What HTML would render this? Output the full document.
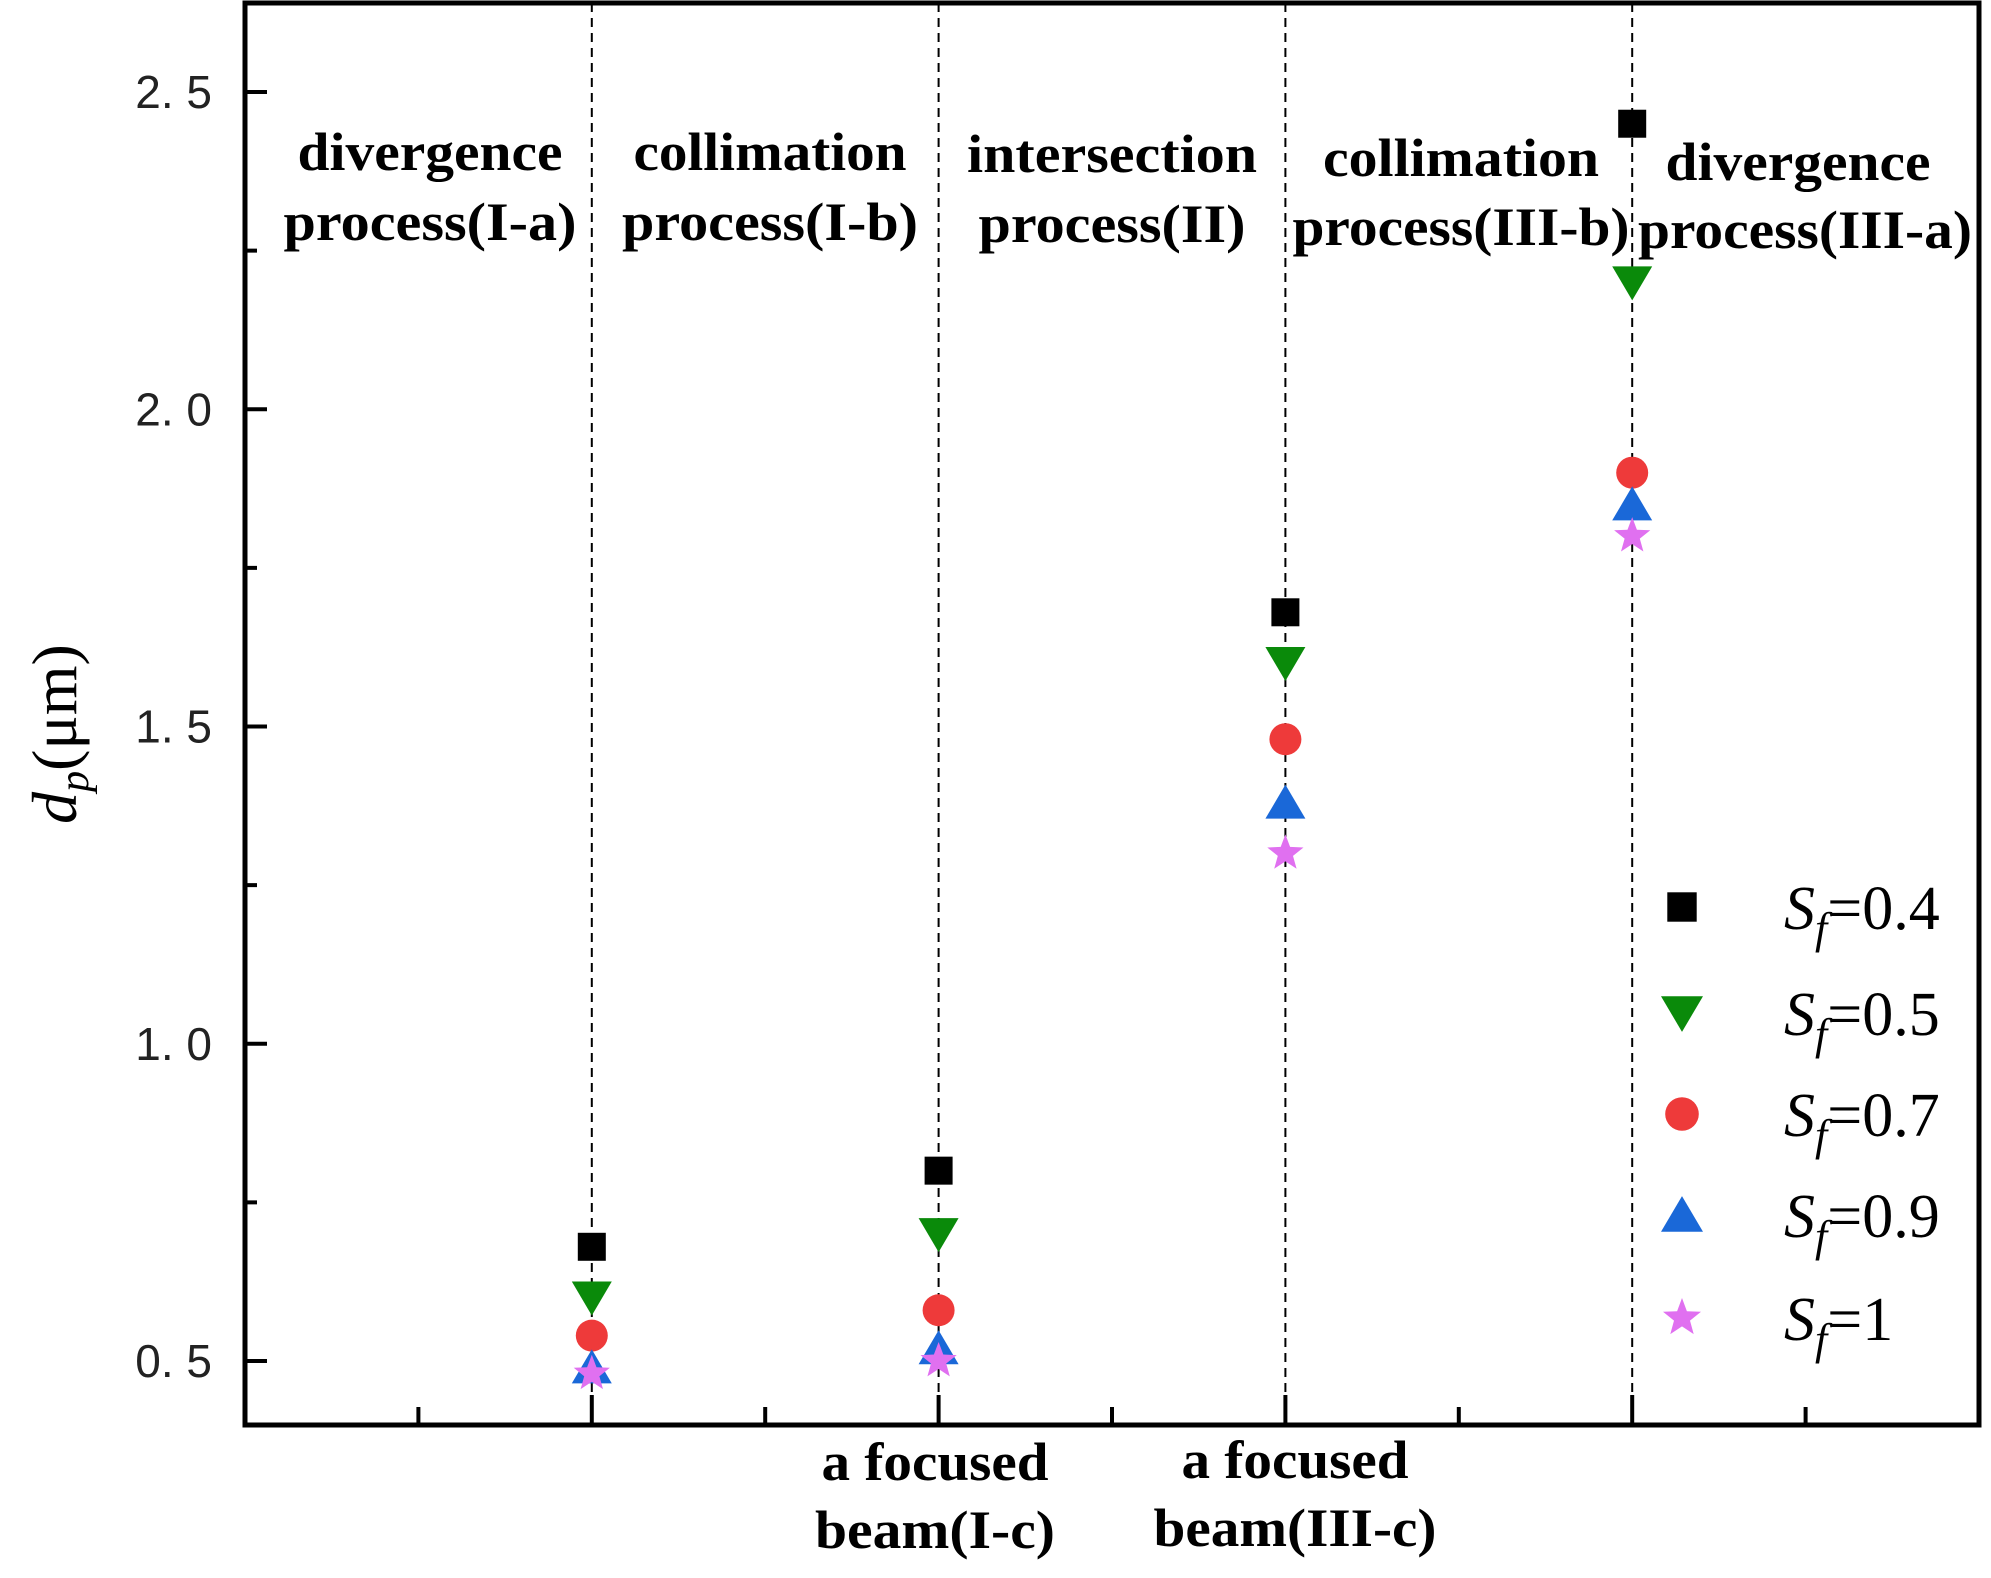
<!DOCTYPE html>
<html><head><meta charset="utf-8"><style>
html,body{margin:0;padding:0;background:#fff;}
svg{display:block;}
.lab{font-family:"Liberation Serif",serif;font-weight:bold;font-size:54px;fill:#000;}
.tick{font-family:"Liberation Sans",sans-serif;font-size:46px;fill:#222;}
.leg{font-family:"Liberation Serif",serif;font-size:62px;fill:#000;}
</style></head><body>
<svg id="chart" width="1991" height="1578" viewBox="0 0 1991 1578">
<g id="grid"></g>
<g id="labels">
<text class="lab" x="430" y="170" text-anchor="middle" textLength="265" lengthAdjust="spacingAndGlyphs">divergence</text>
<text class="lab" x="430" y="240" text-anchor="middle" textLength="293" lengthAdjust="spacingAndGlyphs">process(I-a)</text>
<text class="lab" x="770" y="170" text-anchor="middle" textLength="273" lengthAdjust="spacingAndGlyphs">collimation</text>
<text class="lab" x="770" y="240" text-anchor="middle" textLength="296" lengthAdjust="spacingAndGlyphs">process(I-b)</text>
<text class="lab" x="1112" y="172" text-anchor="middle" textLength="290" lengthAdjust="spacingAndGlyphs">intersection</text>
<text class="lab" x="1112" y="242" text-anchor="middle" textLength="267" lengthAdjust="spacingAndGlyphs">process(II)</text>
<text class="lab" x="1461" y="176" text-anchor="middle" textLength="276" lengthAdjust="spacingAndGlyphs">collimation</text>
<text class="lab" x="1461" y="245" text-anchor="middle" textLength="337" lengthAdjust="spacingAndGlyphs">process(III-b)</text>
<text class="lab" x="1798" y="180" text-anchor="middle" textLength="265" lengthAdjust="spacingAndGlyphs">divergence</text>
<text class="lab" x="1805" y="248" text-anchor="middle" textLength="334" lengthAdjust="spacingAndGlyphs">process(III-a)</text>
<text class="lab" x="935" y="1480" text-anchor="middle" textLength="227" lengthAdjust="spacingAndGlyphs">a focused</text>
<text class="lab" x="935" y="1548" text-anchor="middle" textLength="240" lengthAdjust="spacingAndGlyphs">beam(I-c)</text>
<text class="lab" x="1295" y="1478" text-anchor="middle" textLength="227" lengthAdjust="spacingAndGlyphs">a focused</text>
<text class="lab" x="1295" y="1546" text-anchor="middle" textLength="283" lengthAdjust="spacingAndGlyphs">beam(III-c)</text>
</g>
<g id="axes"></g>
<g id="marks"></g>
<g id="legend"></g>
<text x="76" y="734" transform="rotate(-90 76 734)" text-anchor="middle" style="font-family:'Liberation Serif',serif;font-size:64px"><tspan font-style="italic">d</tspan><tspan font-style="italic" font-size="42" dy="12">p</tspan><tspan dy="-12">(μm)</tspan></text>
</svg>
<script>
const categories=[1,2,3,4];
const s04=[0.68,0.80,1.68,2.45];
const s05=[0.60,0.70,1.60,2.20];
const s07=[0.54,0.58,1.48,1.90];
const s09=[0.49,0.52,1.38,1.85];
const s10=[0.48,0.50,1.30,1.80];
const seriesNames=["0.4","0.5","0.7","0.9","1"];
const yTicks=[0.5,1.0,1.5,2.0,2.5];
const yTickLabels=["0.5","1.0","1.5","2.0","2.5"];

const NS="http://www.w3.org/2000/svg";
const L=245,R=1979,T=3,B=1425;
const xs=v=>L+(v/5)*(R-L);
const ys=v=>1361-(v-0.5)*634.5;
function mk(tag,attrs,parent){const e=document.createElementNS(NS,tag);for(const k in attrs)e.setAttribute(k,attrs[k]);parent.appendChild(e);return e;}
const grid=document.getElementById('grid'),axes=document.getElementById('axes'),marks=document.getElementById('marks'),legend=document.getElementById('legend');
categories.forEach(c=>{
  const l=mk('line',{x1:xs(c),x2:xs(c),y1:T,y2:B,stroke:'#000','stroke-width':2,'stroke-dasharray':'9,6'},grid);
  
  
});
const box=mk('rect',{x:L,y:T,width:R-L,height:B-T,fill:'none',stroke:'#000','stroke-width':5},axes);


for(let i=0.5;i<5;i+=0.5){
  const major=Math.abs(i-Math.round(i))<1e-6;
  const t=mk('line',{x1:xs(i),x2:xs(i),y1:B,y2:B-(major?30:18),stroke:'#000','stroke-width':4},axes);
  
  
}
yTicks.forEach((v,i)=>{
  const t=mk('line',{x1:L,x2:L+22,y1:ys(v),y2:ys(v),stroke:'#000','stroke-width':4},axes);
  
  
  const tx=mk('text',{x:212,y:ys(v)+16,'text-anchor':'end',class:'tick'},axes);
  tx.textContent=yTickLabels[i].replace('.','. ');
  
  
  if(i<yTicks.length-1){
    const m=mk('line',{x1:L,x2:L+12,y1:ys(v+0.25),y2:ys(v+0.25),stroke:'#000','stroke-width':4},axes);
    
    
  }
});
function marker(type,x,y,parent,s){
  let e;
  if(type==='sq')e=mk('rect',{x:x-14*s,y:y-14*s,width:28*s,height:28*s,fill:'#000'},parent);
  else if(type==='dn')e=mk('polygon',{points:`${x-20*s},${y-16*s} ${x+20*s},${y-16*s} ${x},${y+18*s}`,fill:'#0a8a0a'},parent);
  else if(type==='ci')e=mk('circle',{cx:x,cy:y,r:16*s,fill:'#ee3a3a'},parent);
  else if(type==='up')e=mk('polygon',{points:`${x-20*s},${y+16*s} ${x+20*s},${y+16*s} ${x},${y-18*s}`,fill:'#1a68d8'},parent);
  else{let p=[];for(let k=0;k<10;k++){const r=(k%2?8:19)*s,a=-Math.PI/2+k*Math.PI/5;p.push((x+r*Math.cos(a)).toFixed(1)+','+(y+r*Math.sin(a)).toFixed(1));}
    e=mk('polygon',{points:p.join(' '),fill:'#e070f0'},parent);}
  return e;
}
const series=[s04,s05,s07,s09,s10],types=['sq','dn','ci','up','st'];
series.forEach((arr,si)=>{
  arr.forEach((v,ci)=>{
    const m=marker(types[si],xs(categories[ci]),ys(v),marks,1);
    
    
  });
});
const legY=[907,1013,1114,1215,1318];
seriesNames.forEach((n,i)=>{
  const m=marker(types[i],1682,legY[i],legend,1.05);
  
  
  const t=mk('text',{x:1784,y:legY[i]+22,class:'leg'},legend);
  t.innerHTML='<tspan font-style="italic">S</tspan><tspan font-style="italic" font-size="44" dy="14">f</tspan><tspan dy="-14">='+n+'</tspan>';
  
  
});
</script>
</body></html>
